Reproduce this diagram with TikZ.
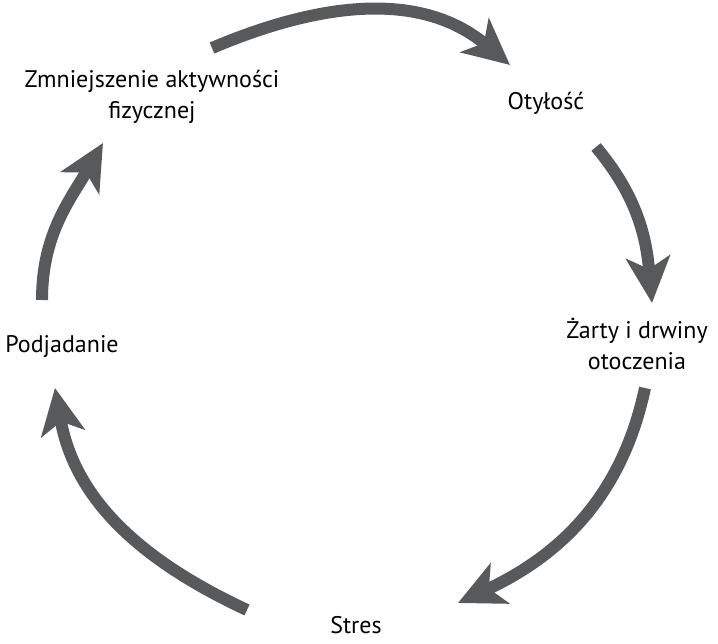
\documentclass[tikz,border=0pt]{standalone}
\usepackage{fontspec}
\setmainfont{PT Sans}
\usetikzlibrary{arrows.meta}
\definecolor{arrowgray}{HTML}{58595B}

\begin{document}
\begin{tikzpicture}[x=1pt,y=1pt,>={Stealth[length=46pt,width=44pt,inset=12pt]},
        every edge/.style={draw=arrowgray,line width=12pt,->},
        txt/.style={font=\fontsize{24}{31}\selectfont,align=center}]
        \useasboundingbox (0,0) rectangle (718,643);
        	\node[txt] (zmn)   at (152,546) {Zmniejszenie aktywności\\fizycznej};
           \node[txt] (oty)   at (546,540) {Otyłość};
           \node[txt] (zart)  at (637,299) {Żarty i drwiny\\otoczenia};
           \node[txt,inner sep=1pt] (stres) at (356,18)  {Stres};
           \node[txt] (podj)  at (62,296)  {Podjadanie};

           % arrow ends
           \coordinate (zmn-out)   at (212,595);
           \coordinate (oty-in)    at (510,578);
           \coordinate (oty-out)   at (596,496);
           \coordinate (zart-in)   at (652,340);
           \coordinate (zart-out)  at (645,255);
           \coordinate (stres-in)  at (458,40);
           \coordinate (stres-out) at (247,33);
           \coordinate (podj-in)   at (55,255);
           \coordinate (podj-out)  at (42,343);
           \coordinate (zmn-in)    at (103,500);

  			\path[]
                     (zmn-out)   edge[out=23,in=140]  (oty-in)
                     (oty-out)   edge[out=-50,in=95]  (zart-in)
                     (zart-out)  edge[out=-102,in=25] (stres-in)
                     (stres-out) edge[out=155,in=-80] (podj-in)
                     (podj-out)  edge[out=90,in=240]  (zmn-in);
             \end{tikzpicture}
\end{document}
